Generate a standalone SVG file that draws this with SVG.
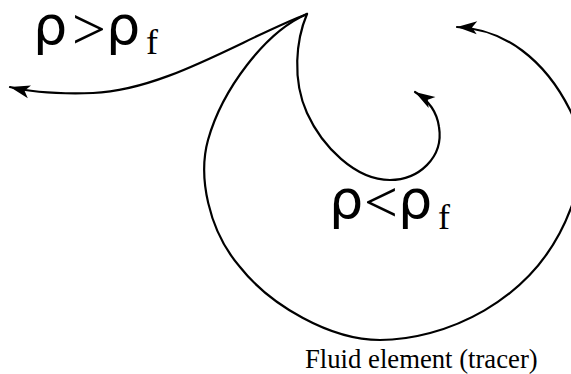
<svg xmlns="http://www.w3.org/2000/svg" width="571" height="374" viewBox="0 0 571 374">
  <style>
    .flow { fill: none; stroke: #000; stroke-width: 2.2; stroke-linecap: round; stroke-linejoin: round; }
    .greek { font-family: "DejaVu Sans", "Noto Sans", sans-serif; font-size: 54px; fill: #000; }
    .rel { font-family: "Liberation Serif", "Times New Roman", serif; font-size: 60px; fill: #000; }
    .sub { font-family: "Liberation Serif", "Times New Roman", serif; font-size: 36px; fill: #000; }
    .label { font-family: "Liberation Serif", "Times New Roman", serif; font-size: 26.7px; fill: #000; }
  </style>
  <defs>
    <marker id="ah" markerUnits="userSpaceOnUse" markerWidth="26" markerHeight="18" viewBox="-22 -9 24 18" refX="0" refY="0" orient="auto">
      <path d="M0,0 L-20,-6.5 L-15,0 L-20,6.5 Z" fill="#000"/>
    </marker>
  </defs>
  <rect width="571" height="374" fill="#fff"/>
  <g id="connectors">
    <path id="heavy-path" class="flow" marker-end="url(#ah)" d="M307,14 C240,40 165,90 93,93 C60,94 30,92 10,87"/>
    <path id="big-loop" class="flow" marker-end="url(#ah)" d="M307,14 C265,32 222,90 208,140 C198,176 208,230 240,267 C270,305 330,340 380,340 C440,340 535,305 571,208 C584,173 583,136 570,110 C545,60 505,29 457,27"/>
    <path id="small-loop" class="flow" marker-end="url(#ah)" d="M307,14 C296,40 292,80 307,113 C322,146 355,180 390,180 C418,180 444,158 439,127 C437,112 428,100 415,92"/>
  </g>
  <g id="label-heavy">
    <text class="greek" x="33" y="44">ρ</text>
    <text class="rel" x="72" y="49">&gt;</text>
    <text class="greek" x="106" y="44">ρ</text>
    <text class="sub" x="146" y="54">f</text>
  </g>
  <g id="label-light">
    <text class="greek" x="329" y="218">ρ</text>
    <text class="rel" x="364" y="222">&lt;</text>
    <text class="greek" x="398" y="218">ρ</text>
    <text class="sub" x="438" y="229">f</text>
  </g>
  <g id="label-tracer">
    <text class="label" x="305" y="368">Fluid element (tracer)</text>
  </g>
</svg>
